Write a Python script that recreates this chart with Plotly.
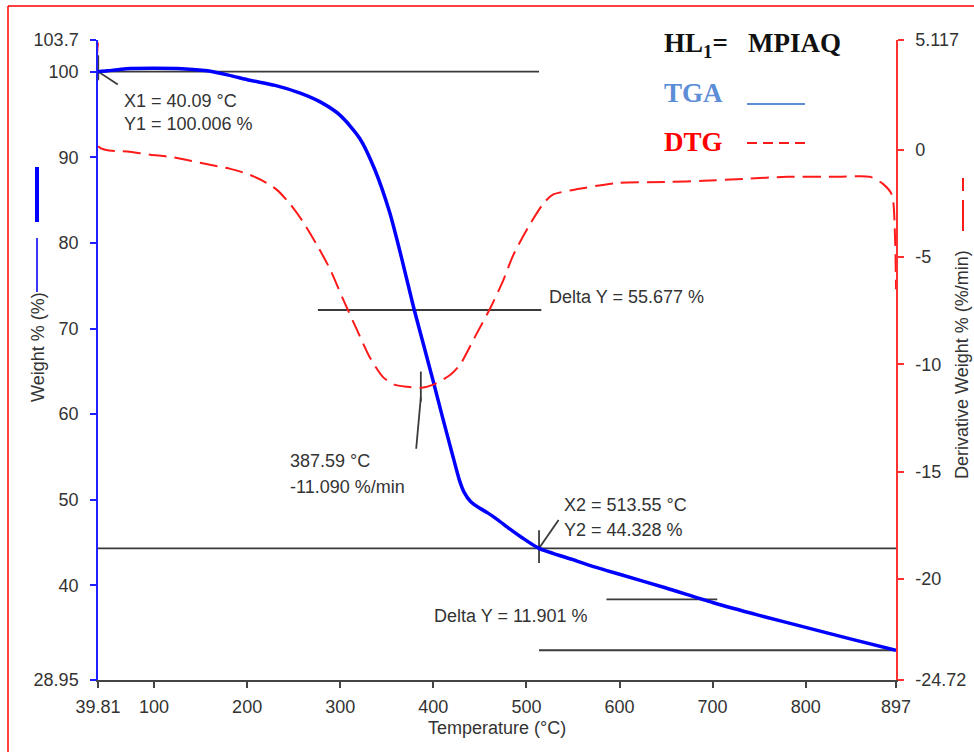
import plotly.graph_objects as go

# ---- TGA curve: weight % vs temperature (°C) ----
temp_tga = [39.81, 50, 70, 100, 130, 157, 180, 203, 230, 257, 278, 300, 321, 337,
            353, 366, 379, 390, 400, 410, 420, 428, 433, 440, 450, 458, 470, 482,
            495, 513.55, 550, 575, 600, 650, 700, 750, 800, 850, 897]
weight_tga = [100.0, 100.1, 100.35, 100.4, 100.35, 100.1, 99.6, 99.0, 98.4, 97.5,
              96.5, 94.9, 92.2, 88.6, 83.6, 78.2, 72.4, 67.9, 63.8, 59.6, 55.5,
              52.3, 50.9, 49.8, 49.0, 48.5, 47.6, 46.6, 45.6, 44.328, 43.0, 42.1,
              41.3, 39.7, 38.0, 36.5, 35.1, 33.7, 32.43]

# ---- DTG curve: derivative weight % (%/min) vs temperature (°C) ----
temp_dtg = [39.81, 40.5, 74, 96, 117, 139, 160, 182, 200, 217, 232, 246, 260, 275,
            289, 303, 318, 332, 346, 358, 372, 387.59, 400, 418, 429, 445, 461,
            475, 486, 504, 518, 528, 557, 582, 600, 654, 690, 733, 780, 834, 869,
            883, 892.6, 895.9, 897]
deriv_dtg = [5.0, 0.14, -0.09, -0.23, -0.33, -0.51, -0.70, -0.89, -1.12, -1.45,
             -1.87, -2.52, -3.36, -4.44, -5.56, -6.96, -8.4, -9.7, -10.6, -10.95,
             -11.05, -11.09, -10.95, -10.5, -10.0, -8.7, -7.4, -6.1, -4.9, -3.46,
             -2.52, -2.1, -1.82, -1.64, -1.54, -1.50, -1.45, -1.36, -1.26, -1.26,
             -1.26, -1.59, -2.1, -4.0, -6.5]

# ---- axis ticks ----
x_ticks = [39.81, 100, 200, 300, 400, 500, 600, 700, 800, 897]
x_tick_text = ["39.81", "100", "200", "300", "400", "500", "600", "700", "800", "897"]
w_ticks = [28.95, 40, 50, 60, 70, 80, 90, 100, 103.7]
w_tick_text = ["28.95", "40", "50", "60", "70", "80", "90", "100", "103.7"]
d_ticks = [-24.72, -20, -15, -10, -5, 0, 5.117]
d_tick_text = ["-24.72", "-20", "-15", "-10", "-5", "0", "5.117"]

# ---- analysis markers ----
X1, Y1 = 40.09, 100.006
X2, Y2 = 513.55, 44.328
DELTA_1 = 55.677
DELTA_2 = 11.901
PEAK_T, PEAK_D = 387.59, -11.090

W, H = 974, 752
L, R, T, B = 98, 78, 40, 72
PW, PH = W - L - R, H - T - B


def xp(px):
    return (px - L) / PW


def yp(py):
    return (H - B - py) / PH


TEXT = dict(family="Liberation Sans, Arial, sans-serif", size=18, color="#333333")
BLACK = "#3a3a3a"

fig = go.Figure()
fig.add_trace(go.Scatter(x=temp_dtg, y=deriv_dtg, yaxis="y2", mode="lines",
                         line=dict(color="#ff1a1a", width=2, dash="18px,8px",
                                   shape="spline", smoothing=0.7),
                         showlegend=False, hoverinfo="skip"))
fig.add_trace(go.Scatter(x=temp_tga, y=weight_tga, mode="lines",
                         line=dict(color="#0000ff", width=3.5,
                                   shape="spline", smoothing=0.7),
                         showlegend=False, hoverinfo="skip"))

shapes = []


def seg(x0, y0, x1, y1, yref="y", color=BLACK, width=1.8, dash=None):
    line = dict(color=color, width=width)
    if dash:
        line["dash"] = dash
    shapes.append(dict(type="line", xref="x", yref=yref, x0=x0, y0=y0, x1=x1, y1=y1,
                       line=line, layer="below"))


def pseg(px0, py0, px1, py1, color, width, dash=None):
    line = dict(color=color, width=width)
    if dash:
        line["dash"] = dash
    shapes.append(dict(type="line", xref="paper", yref="paper", x0=xp(px0), y0=yp(py0),
                       x1=xp(px1), y1=yp(py1), line=line, layer="above"))


# point 1 and its reference line
seg(X1, Y1, X2, Y1)
seg(X1, Y1 + 1.9, X1, Y1 - 1.0)
seg(X1, Y1, X1 + 21, Y1 - 1.5)
# point 2 and its reference lines
seg(39.81, Y2, 897, Y2)
seg(X2, Y2 + 2.1, X2, Y2 - 1.7)
seg(X2, Y2, X2 + 21, Y2 + 3.3)
seg(X2, Y2 - DELTA_2, 897, Y2 - DELTA_2)
# delta markers at the midpoints of each step
seg(276, Y1 - DELTA_1 / 2, 516, Y1 - DELTA_1 / 2)
seg(586, Y2 - DELTA_2 / 2, 705, Y2 - DELTA_2 / 2)
# DTG peak marker
seg(PEAK_T - 1, PEAK_D + 0.75, PEAK_T - 1, PEAK_D - 0.65, yref="y2")
seg(PEAK_T - 1, PEAK_D - 0.45, PEAK_T - 6, PEAK_D - 2.85, yref="y2")

# page frame
pseg(8, 6, 974, 6, "#ff0000", 1.5)
pseg(8, 6, 8, 752, "#ff0000", 1.5)

# legend samples
pseg(747, 104, 805, 104, "#5b8ed6", 2)
pseg(747, 143, 805, 143, "#ff1a1a", 2, dash="10px,6px")
# axis title line samples
pseg(37, 167, 37, 222, "#0000ff", 4)
pseg(37, 238, 37, 292, "#3a3aff", 2)
pseg(963, 178, 963, 191, "#ff1a1a", 2)
pseg(963, 200, 963, 231, "#ff1a1a", 2)

annotations = []


def label(text, px, py, font=TEXT, angle=0, xanchor="left"):
    annotations.append(dict(text=text, x=xp(px), y=yp(py), xref="paper", yref="paper",
                            xanchor=xanchor, yanchor="middle", showarrow=False,
                            font=font, textangle=angle))


label(f"X1 = {X1:.2f} °C", 122, 101)
label(f"Y1 = {Y1:.3f} %", 122, 124)
label(f"Delta Y = {DELTA_1:.3f} %", 547, 297)
label(f"{PEAK_T:.2f} °C", 288, 461)
label(f"{PEAK_D:.3f} %/min", 288, 487)
label(f"X2 = {X2:.2f} °C", 562, 505)
label(f"Y2 = {Y2:.3f} %", 562, 530)
label(f"Delta Y = {DELTA_2:.3f} %", 432, 616)

SERIF = "Liberation Serif, Times New Roman, serif"
label("<b>HL<sub>1</sub>=\u00a0\u00a0\u00a0MPIAQ</b>", 662, 45,
      font=dict(family=SERIF, size=27, color="#111111"))
label("<b>TGA</b>", 662, 93, font=dict(family=SERIF, size=27, color="#5b8ed6"))
label("<b>DTG</b>", 662, 142, font=dict(family=SERIF, size=27, color="#ff0000"))

label("Weight % (%)", 38, 347, angle=-90, xanchor="center")
label("Derivative Weight % (%/min)", 962, 365, angle=-90, xanchor="center")
label("Temperature (°C)", 497, 728, xanchor="center")

TICK = dict(family="Liberation Sans, Arial, sans-serif", size=18, color="#333333")

fig.update_layout(
    width=W, height=H,
    margin=dict(l=L, r=R, t=T, b=B, pad=0, autoexpand=False),
    paper_bgcolor="white", plot_bgcolor="white",
    showlegend=False,
    shapes=shapes,
    annotations=annotations,
    xaxis=dict(range=[39.81, 897], tickvals=x_ticks, ticktext=x_tick_text,
               showgrid=False, zeroline=False, showline=True, linecolor="#444444",
               linewidth=2, ticks="outside", ticklen=6, tickcolor="#444444",
               tickwidth=1.5, tickfont=TICK, ticklabelstandoff=3, automargin=False),
    yaxis=dict(range=[28.95, 103.7], tickvals=w_ticks, ticktext=w_tick_text,
               showgrid=False, zeroline=False, showline=True, linecolor="#1f1fff",
               linewidth=1.5, ticks="outside", ticklen=6, tickcolor="#1f1fff",
               tickwidth=1.5, tickfont=TICK, ticklabelstandoff=8, automargin=False),
    yaxis2=dict(range=[-24.72, 5.117], tickvals=d_ticks, ticktext=d_tick_text,
                overlaying="y", side="right", showgrid=False, zeroline=False,
                showline=True, linecolor="#ff3030", linewidth=1.5, ticks="outside",
                ticklen=6, tickcolor="#ff3030", tickwidth=1.5, tickfont=TICK,
                ticklabelstandoff=8, automargin=False),
)

fig.write_html("out.html")
